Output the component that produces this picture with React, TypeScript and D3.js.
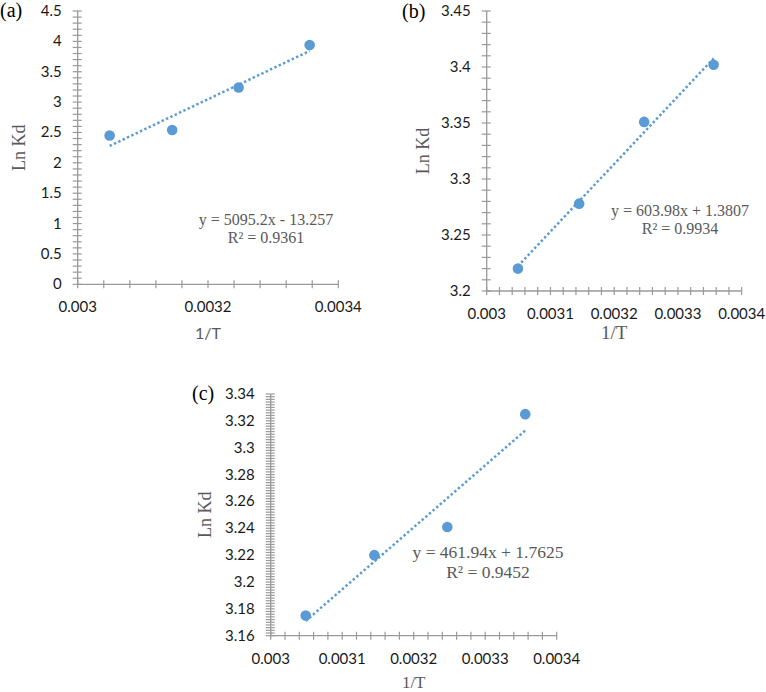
import React from "react";
import * as d3 from "d3";

// ---- data ----
const invT = [0.003049, 0.003145, 0.003247, 0.003356];
const lnKdA = [2.45, 2.54, 3.24, 3.94];
const lnKdB = [3.22, 3.278, 3.351, 3.402];
const lnKdC = [3.175, 3.22, 3.241, 3.325];

const trendA = [5095.2, -13.257];
const trendB = [603.98, 1.3807];
const trendC = [461.94, 1.7625];

const eqA = ["y = 5095.2x - 13.257", "R² = 0.9361"];
const eqB = ["y = 603.98x + 1.3807", "R² = 0.9934"];
const eqC = ["y = 461.94x + 1.7625", "R² = 0.9452"];

const xTicksA = ["0.003", "0.0032", "0.0034"];
const xTicksBC = ["0.003", "0.0031", "0.0032", "0.0033", "0.0034"];
const yTicksA = ["0", "0.5", "1", "1.5", "2", "2.5", "3", "3.5", "4", "4.5"];
const yTicksB = ["3.2", "3.25", "3.3", "3.35", "3.4", "3.45"];
const yTicksC = ["3.16", "3.18", "3.2", "3.22", "3.24", "3.26", "3.28", "3.3", "3.32", "3.34"];

const BLUE = "#5B9BD5";
const AXIS = "#9a9a9a";
const GRAY = "#595959";
const TICKFONT = "Lato, 'Open Sans', sans-serif";
const SERIF = "'Liberation Serif', 'Times New Roman', serif";

type PanelProps = {
  label: string;
  labelPos: [number, number];
  box: [number, number, number, number]; // x0, x1, yTop, yBot
  xDomain: [number, number];
  yDomain: [number, number];
  xLabels: string[];
  yLabels: string[];
  xMinor: number;
  yMinor: number;
  ys: number[];
  trend: number[];
  eq: string[];
  eqPos: [number, number, number];
  eqSize: number;
  yTitleX: number;
  xTitle: { y: number; font: string; size: number };
};

function Panel(p: PanelProps) {
  const [x0, x1, yTop, yBot] = p.box;
  const x = d3.scaleLinear().domain(p.xDomain).range([x0, x1]);
  const y = d3.scaleLinear().domain(p.yDomain).range([yBot, yTop]);
  const xMinorTicks = d3.range(
    p.xDomain[0],
    p.xDomain[1] + p.xMinor / 2,
    p.xMinor
  );
  const yMinorTicks = d3.range(
    p.yDomain[0],
    p.yDomain[1] + p.yMinor / 2,
    p.yMinor
  );
  const pts = invT.map((v, i) => [v, p.ys[i]] as [number, number]);
  const xs = d3.extent(invT) as [number, number];
  const line = d3
    .line<number>()
    .x((d) => x(d))
    .y((d) => y(p.trend[0] * d + p.trend[1]));
  return (
    <g>
      <text
        x={p.labelPos[0]}
        y={p.labelPos[1]}
        fontFamily={SERIF}
        fontSize={20}
        fill="#000"
      >
        {p.label}
      </text>
      {/* axes */}
      <line x1={x0} x2={x1} y1={yBot} y2={yBot} stroke={AXIS} strokeWidth={1.3} />
      <line x1={x0} x2={x0} y1={yTop} y2={yBot} stroke={AXIS} strokeWidth={1.3} />
      {xMinorTicks.map((t, i) => (
        <line
          key={"xm" + i}
          x1={x(t)}
          x2={x(t)}
          y1={yBot - 4}
          y2={yBot + 4}
          stroke={AXIS}
          strokeWidth={1.2}
        />
      ))}
      {yMinorTicks.map((t, i) => (
        <line
          key={"ym" + i}
          x1={x0 - 5}
          x2={x0 + 4}
          y1={y(t)}
          y2={y(t)}
          stroke={AXIS}
          strokeWidth={1.2}
        />
      ))}
      {p.xLabels.map((l) => (
        <text
          key={"xl" + l}
          x={x(+l)}
          y={yBot + 28}
          textAnchor="middle"
          fontFamily={TICKFONT}
          fontSize={15}
          fill="#1a1a1a"
        >
          {l}
        </text>
      ))}
      {p.yLabels.map((l) => (
        <text
          key={"yl" + l}
          x={x0 - 16}
          y={y(+l) + 5}
          textAnchor="end"
          fontFamily={TICKFONT}
          fontSize={15}
          fill="#1a1a1a"
        >
          {l}
        </text>
      ))}
      {/* titles */}
      <text
        transform={`translate(${p.yTitleX},${(yTop + yBot) / 2}) rotate(-90)`}
        textAnchor="middle"
        dominantBaseline="central"
        fontFamily={SERIF}
        fontSize={18}
        fill={GRAY}
      >
        Ln Kd
      </text>
      <text
        x={(x0 + x1) / 2}
        y={p.xTitle.y}
        textAnchor="middle"
        fontFamily={p.xTitle.font}
        fontSize={p.xTitle.size}
        fill={GRAY}
      >
        1/T
      </text>
      {/* trendline */}
      <path
        d={line(xs) || ""}
        fill="none"
        stroke={BLUE}
        strokeWidth={2.5}
        strokeDasharray="2.4 2.4"
      />
      {pts.map((d, i) => (
        <circle key={"c" + i} cx={x(d[0])} cy={y(d[1])} r={5.3} fill={BLUE} />
      ))}
      {/* equation */}
      {p.eq.map((t, i) => (
        <text
          key={"eq" + i}
          x={p.eqPos[0]}
          y={i === 0 ? p.eqPos[1] : p.eqPos[2]}
          textAnchor="middle"
          fontFamily={SERIF}
          fontSize={p.eqSize}
          fill={GRAY}
        >
          {t}
        </text>
      ))}
    </g>
  );
}

export default function App() {
  return (
    <svg
      width={766}
      height={692}
      style={{ position: "absolute", left: 0, top: 0, background: "#fff" }}
    >
      <rect width={766} height={692} fill="#fff" />
      <Panel
        label="(a)"
        labelPos={[0, 17]}
        box={[77.7, 338.3, 11, 284.3]}
        xDomain={[0.003, 0.0034]}
        yDomain={[0, 4.5]}
        xLabels={xTicksA}
        yLabels={yTicksA}
        xMinor={0.00004}
        yMinor={0.1}
        ys={lnKdA}
        trend={trendA}
        eq={eqA}
        eqPos={[266, 225, 243]}
        eqSize={16}
        yTitleX={19}
        xTitle={{ y: 339, font: TICKFONT, size: 16 }}
      />
      <Panel
        label="(b)"
        labelPos={[402, 18]}
        box={[486.7, 741.7, 11, 291]}
        xDomain={[0.003, 0.0034]}
        yDomain={[3.2, 3.45]}
        xLabels={xTicksBC}
        yLabels={yTicksB}
        xMinor={0.00002}
        yMinor={0.01}
        ys={lnKdB}
        trend={trendB}
        eq={eqB}
        eqPos={[680, 216, 234]}
        eqSize={16}
        yTitleX={423}
        xTitle={{ y: 339, font: SERIF, size: 19 }}
      />
      <Panel
        label="(c)"
        labelPos={[192, 400]}
        box={[270.7, 556.7, 394, 635.7]}
        xDomain={[0.003, 0.0034]}
        yDomain={[3.16, 3.34]}
        xLabels={xTicksBC}
        yLabels={yTicksC}
        xMinor={0.00002}
        yMinor={0.002}
        ys={lnKdC}
        trend={trendC}
        eq={eqC}
        eqPos={[488, 558, 578]}
        eqSize={17.5}
        yTitleX={205}
        xTitle={{ y: 688, font: SERIF, size: 17 }}
      />
    </svg>
  );
}
